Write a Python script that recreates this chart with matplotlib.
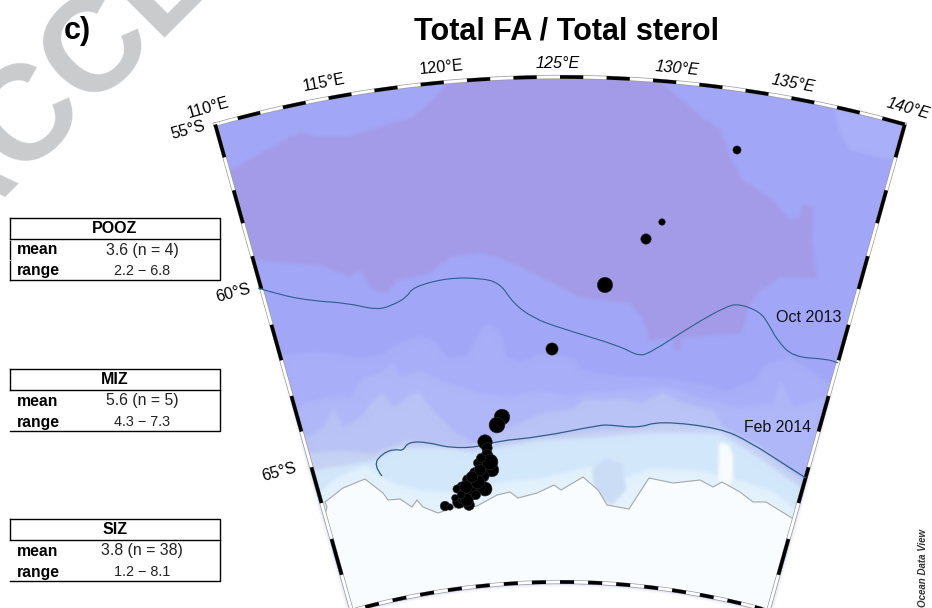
import numpy as np
import matplotlib
matplotlib.use('Agg')
import matplotlib.pyplot as plt
from matplotlib.colors import to_rgb
from matplotlib.patches import Polygon, PathPatch
from matplotlib.path import Path

plt.rcParams['font.family'] = ['Liberation Sans', 'DejaVu Sans']

# ----- stations (map position and Total FA / Total sterol ratio)
station_x = [737, 662, 646, 605, 552, 502, 497, 485, 487, 487, 478, 492, 483, 475, 468, 473, 485, 462, 457, 465, 473, 459, 469, 445, 450,
             470, 478, 487, 490, 480, 463, 467, 472, 466, 476, 481, 461, 455]
station_y = [150, 222, 239, 285, 349, 417, 425, 442, 448, 462, 463, 470, 476, 473, 480, 487, 489, 487, 489, 494, 495, 502, 505, 506, 507,
             490, 482, 455, 462, 470, 498, 500, 477, 487, 495, 458, 495, 498]
station_val = [3.6, 2.9, 4.6, 6.8, 5.4, 6.9, 7.0, 6.4, 4.6, 8.1, 4.0, 6.0, 5.4, 4.8, 4.8, 6.0, 6.2, 4.6, 3.6, 6.0, 4.2, 5.6, 4.8, 4.2, 2.8,
               5.5, 6.0, 5.0, 7.0, 5.0, 5.0, 5.5, 5.0, 5.5, 4.0, 4.0, 3.5, 3.0]

# ----- sea ice edges
oct2013_x = [258, 280, 313, 347, 377, 393, 407, 413, 447, 480, 500, 513, 533, 560, 620, 638, 650, 693, 727, 740, 760, 768, 777, 793, 827, 838]
oct2013_y = [288, 295, 301, 303, 310, 305, 297, 287, 278, 278, 283, 303, 318, 328, 346, 356, 353, 325, 306, 304, 312, 323, 340, 357, 359, 363]
feb2014_x = [382, 373, 383, 395, 403, 408, 427, 450, 480, 497, 540, 600, 610, 638, 660, 720, 750, 790, 806]
feb2014_y = [476, 465, 453, 449, 451, 442, 442, 448, 447, 441, 437, 425, 425, 428, 421, 428, 442, 468, 478]

# ----- coastline
coast_x = [318, 323, 327, 325, 343, 365, 383, 388, 400, 412, 417, 423, 438, 453, 477, 497, 510, 518, 537, 554, 561, 583, 598, 607, 629, 636, 649, 673, 700, 713, 722, 740, 753, 766, 805]
coast_y = [530, 522, 507, 502, 488, 479, 493, 500, 499, 507, 500, 507, 513, 508, 506, 495, 492, 498, 493, 485, 490, 477, 490, 505, 509, 498, 478, 483, 480, 487, 482, 492, 502, 502, 526]

# ----- contour bands, from north to south
purple_x = [225, 300, 317, 347, 413, 443, 447, 560, 653, 693, 720, 730, 743, 773, 790, 800, 803, 813, 812, 817, 780, 757, 747, 742, 710, 650, 642, 630, 603, 580, 547, 513, 480, 450, 430, 397, 387, 373, 360, 350, 320, 280, 252]
purple_y = [173, 132, 137, 137, 117, 90, 75, 70, 75, 110, 130, 157, 180, 200, 220, 217, 205, 207, 240, 278, 277, 293, 310, 333, 335, 340, 317, 303, 300, 297, 280, 263, 252, 257, 273, 280, 293, 290, 270, 277, 265, 262, 260]
purple_blob_x = [674, 682, 681, 675]
purple_blob_y = [338, 338, 350, 350]
corner_x = [835, 838, 850, 880, 900, 915, 910, 880, 845]
corner_y = [110, 130, 150, 158, 160, 130, 110, 100, 100]
band2_x = [250, 297, 320, 357, 380, 400, 420, 433, 447, 467, 480, 488, 500, 507, 520, 540, 573, 583, 623, 650, 683, 727, 753, 767, 790, 840]
band2_y = [355, 353, 352, 357, 355, 342, 335, 340, 357, 355, 330, 323, 333, 357, 362, 353, 357, 370, 377, 377, 380, 390, 380, 363, 357, 390]
band3_x = [270, 290, 303, 327, 350, 363, 380, 393, 400, 420, 440, 460, 480, 507, 540, 573, 583, 623, 667, 707, 740, 773, 780, 793, 840]
band3_y = [425, 417, 403, 397, 397, 377, 373, 363, 377, 370, 380, 387, 393, 397, 390, 397, 392, 390, 387, 400, 407, 403, 380, 407, 393]
band4_x = [280, 295, 307, 323, 333, 343, 360, 373, 383, 393, 417, 433, 453, 473, 540, 557, 570, 583, 603, 623, 640, 663, 677, 700, 713, 723, 757, 793, 830]
band4_y = [437, 437, 437, 427, 407, 427, 417, 400, 393, 407, 390, 410, 430, 443, 413, 410, 410, 400, 400, 398, 403, 392, 400, 407, 410, 427, 443, 473, 490]
band5_x = [280, 300, 317, 340, 373, 407, 453, 540, 597, 640, 663, 720, 757, 830]
band5_y = [453, 453, 452, 450, 453, 440, 447, 437, 430, 428, 422, 428, 447, 500]
band6_x = [280, 313, 357, 373, 397, 447, 473, 540, 597, 640, 720, 753, 800, 830]
band6_y = [470, 470, 463, 460, 448, 448, 452, 440, 437, 433, 433, 453, 487, 520]
band7_x = [310, 335, 365, 390, 420, 460, 500, 540, 590, 620, 650, 700, 740, 770, 805]
band7_y = [500, 478, 465, 482, 490, 492, 482, 478, 466, 480, 468, 470, 480, 490, 515]
white_patch_x = [719, 722, 729, 733, 733, 727, 718]
white_patch_y = [445, 442, 445, 455, 480, 486, 480]
shade_patch_x = [592, 606, 622, 626, 612, 596]
shade_patch_y = [470, 458, 464, 490, 505, 495]

lon_ticks = [110, 115, 120, 125, 130, 135, 140]
lat_ticks = [55, 60, 65]

# ----- zone summary tables
zones = ['POOZ', 'MIZ', 'SIZ']
zone_mean = [3.6, 5.6, 3.8]
zone_n = [4, 5, 38]
zone_low = [2.2, 4.3, 1.2]
zone_high = [6.8, 7.3, 8.1]


def proj(lon, lat):
    # conic map projection fitted to the frame, picture coordinates
    r = np.interp(lat, [55, 60, 65, 69], [1276, 1105, 920, 771])
    t = np.radians((np.asarray(lon, dtype=float) - 125) * 1.045)
    return 560 + r * np.sin(t), 1353 - r * np.cos(t)


def soften(color):
    # blurs only the alpha of a band, so the edges stay clean
    rgb = np.array(to_rgb(color))

    def process(im, dpi):
        pad = 8
        alpha = np.pad(im[:, :, 3], pad)
        for axis in (0, 1):
            res = np.zeros_like(alpha)
            for shift, w in zip(range(-3, 4), [1, 3, 6, 7, 6, 3, 1]):
                res += w * np.roll(alpha, shift, axis=axis)
            alpha = res / 27.0
        out = np.zeros(alpha.shape + (4,), dtype=im.dtype)
        out[:, :, :3] = rgb
        out[:, :, 3] = alpha
        return out, -pad, -pad
    return process


def smooth_line(ax, x, y, **kw):
    # quadratic curve through the midpoints of the read points
    pts = np.column_stack([x, y]).astype(float)
    verts = [pts[0]]
    codes = [Path.MOVETO]
    for i in range(1, len(pts) - 1):
        verts += [pts[i], (pts[i] + pts[i + 1]) / 2]
        codes += [Path.CURVE3, Path.CURVE3]
    verts.append(pts[-1])
    codes.append(Path.LINETO)
    ax.add_patch(PathPatch(Path(verts, codes), facecolor='none', **kw))


fig = plt.figure(figsize=(9.32, 6.08), dpi=100)
ax = fig.add_axes([0, 0, 1, 1])
ax.set_xlim(0, 932)
ax.set_ylim(608, 0)
ax.axis('off')

# watermark
ax.text(-48, 247, 'ACCEPTED', fontsize=97, color='#C9CBCD', fontweight='bold',
        rotation=45, rotation_mode='anchor', ha='left', va='baseline', zorder=0)

# map sector
lons = np.linspace(110, 140, 121)
lats = np.linspace(55, 69, 57)
top = proj(lons, 55 * np.ones_like(lons))
right = proj(140 * np.ones_like(lats), lats)
bottom = proj(lons[::-1], 69 * np.ones_like(lons))
left = proj(110 * np.ones_like(lats), lats[::-1])
sx = np.concatenate([top[0], right[0], bottom[0], left[0]])
sy = np.concatenate([top[1], right[1], bottom[1], left[1]])
sector = Polygon(np.column_stack([sx, sy]), closed=True, facecolor='#A1A6F6', edgecolor='none', zorder=1)
ax.add_patch(sector)

# contour bands, clipped to the sector
bands = [(band2_x, band2_y, '#A8AFF8'), (band3_x, band3_y, '#AFB7F8'), (band4_x, band4_y, '#BAC3F5'),
         (band5_x, band5_y, '#C6D2F3'), (band6_x, band6_y, '#D3E7FB'), (band7_x, band7_y, '#E2F1FC')]
for bx, by, col in bands:
    b = ax.fill_between(bx, by, 640, color=col, lw=0, zorder=2)
    b.set_clip_path(sector)
    b.set_agg_filter(soften(col))
for fx, fy, col in [(purple_x, purple_y, '#A49BE8'), (purple_blob_x, purple_blob_y, '#A49BE8'),
                    (corner_x, corner_y, '#A9AFF8'), (shade_patch_x, shade_patch_y, '#CBDCF5'),
                    (white_patch_x, white_patch_y, '#F6FBFE')]:
    for a in ax.fill(fx, fy, color=col, lw=0, zorder=2):
        a.set_clip_path(sector)
        a.set_agg_filter(soften(col))
ice = ax.fill_between(coast_x, coast_y, 640, color='#F8FCFE', lw=0, zorder=3)
ice.set_clip_path(sector)
l, = ax.plot(coast_x, coast_y, color='#A8A8A8', lw=0.8, zorder=4)
l.set_clip_path(sector)

# frame: grey double line with black 1 degree dashes
ax.plot(sx.tolist() + [sx[0]], sy.tolist() + [sy[0]], color='#9A9A9A', lw=3.0, zorder=5, solid_joinstyle='miter')
ax.plot(sx.tolist() + [sx[0]], sy.tolist() + [sy[0]], color='white', lw=2.0, zorder=5, solid_joinstyle='miter')
for lon0 in range(111, 140, 2):
    for lat_side in (55, 69):
        px, py = proj(np.linspace(lon0, lon0 + 1, 6), lat_side * np.ones(6))
        ax.plot(px, py, color='black', lw=2.6, solid_capstyle='butt', zorder=6)
for lat0 in range(55, 69, 2):
    for lon_side in (110, 140):
        px, py = proj(lon_side * np.ones(2), np.array([lat0, lat0 + 1]))
        ax.plot(px, py, color='black', lw=2.6, solid_capstyle='butt', zorder=6)

# ice edges and stations
smooth_line(ax, oct2013_x, oct2013_y, edgecolor='#2E5E8C', lw=0.8, zorder=7)
smooth_line(ax, feb2014_x, feb2014_y, edgecolor='#2E5E8C', lw=0.9, zorder=7)
sizes = (2 * 1.13 * np.array(station_val) * 0.72) ** 2
ax.scatter(station_x, station_y, s=sizes, color='black', edgecolor='#2A2A2A', lw=0.4, zorder=8)
ax.text(809, 318, 'Oct 2013', fontsize=11.6, ha='center', va='center', color='#111111', zorder=9)
ax.text(777, 427, 'Feb 2014', fontsize=11.4, ha='center', va='center', color='#111111', zorder=9)

# graticule labels
lon_lx = [208, 324, 441, 558, 677, 793, 908]
lon_ly = [108, 83, 68, 63, 69, 84, 109]
for lon, lx, ly in zip(lon_ticks, lon_lx, lon_ly):
    rot = (125 - lon) * 1.045
    ax.text(lx, ly, f'{lon}°E', fontsize=11.6, rotation=rot, rotation_mode='anchor', ha='center', va='center',
            style='italic' if lon >= 125 else 'normal', color='black', zorder=9)
lat_lx = [188, 233, 279]
lat_ly = [130, 293, 472]
for lat, lx, ly in zip(lat_ticks, lat_lx, lat_ly):
    ax.text(lx, ly, f'{lat}°S', fontsize=11.6, rotation=15, rotation_mode='anchor', ha='center', va='center',
            color='black', zorder=9)

ax.text(923, 568, 'Ocean Data View', fontsize=7, fontweight='bold', style='italic', rotation=90,
        ha='center', va='center', color='#333333', zorder=9)

# titles
ax.text(77, 31, 'c)', fontsize=22, fontweight='bold', ha='center', va='center', zorder=9)
ax.text(566, 31, 'Total FA / Total sterol', fontsize=22, fontweight='bold', ha='center', va='center', zorder=9)

# tables
table_top = [218, 369, 519]
for i, name in enumerate(zones):
    t = table_top[i]
    ax.plot([10, 220, 220, 10], [t, t, t + 62, t + 62], color='black', lw=1.0, zorder=9)
    ax.plot([10, 220], [t + 21, t + 21], color='black', lw=1.0, zorder=9)
    ax.plot([10, 10], [t, t + 21], color='black', lw=1.0, zorder=9)
    if name == 'POOZ':
        ax.plot([10, 10], [t + 23, t + 41], color='black', lw=1.0, zorder=9)
        ax.plot([10, 10], [t + 43, t + 62], color='black', lw=1.0, zorder=9)
    ax.text(115, t + 10.5, name, fontsize=11.5, fontweight='bold', ha='center', va='center', zorder=9)
    ax.text(16.5, t + 32, 'mean', fontsize=11.3, fontweight='bold', ha='left', va='center', zorder=9)
    ax.text(16.5, t + 53, 'range', fontsize=11.3, fontweight='bold', ha='left', va='center', zorder=9)
    ax.text(142, t + 32, f'{zone_mean[i]} (n = {zone_n[i]})', fontsize=11.4, ha='center', va='center', color='#222222', zorder=9)
    ax.text(142, t + 53, f'{zone_low[i]} − {zone_high[i]}', fontsize=10.4, ha='center', va='center', color='#222222', zorder=9)

fig.savefig('out.png', dpi=100)
